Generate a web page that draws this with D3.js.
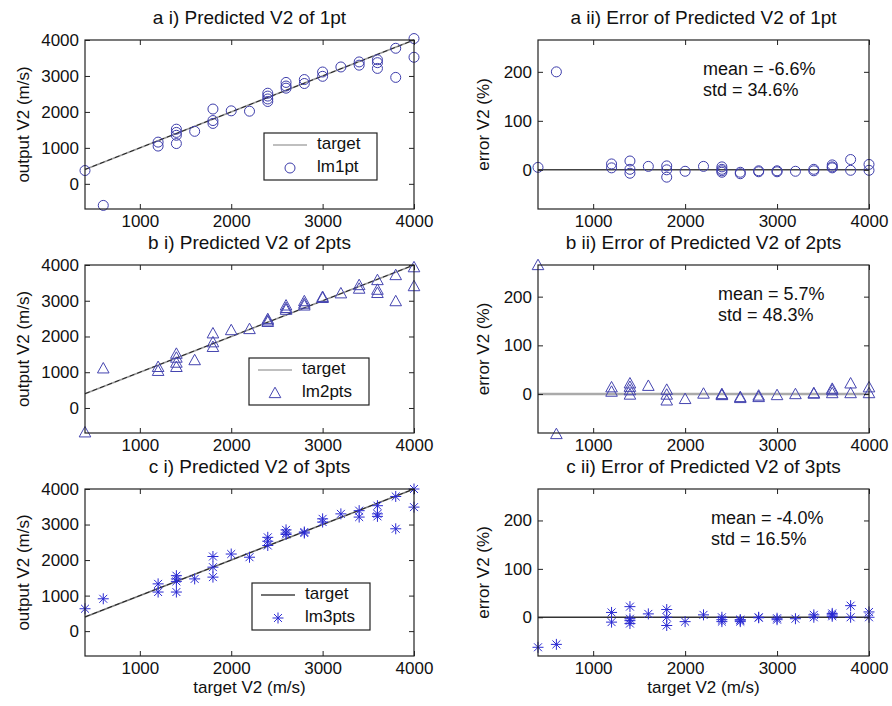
<!DOCTYPE html>
<html>
<head>
<meta charset="utf-8">
<script src="https://cdn.jsdelivr.net/npm/d3@7"></script>
<style>
body { margin: 0; background: #fff; }
text { font-family: Arial, "Liberation Sans", sans-serif; fill: #111; }
</style>
</head>
<body>
<div id="chart"></div>
<script>
// axis settings
const X_DOMAIN = [400, 4000];
const X_TICKS = [1000, 2000, 3000, 4000];
const OUT_DOMAIN = [-700, 4000];
const OUT_TICKS = [0, 1000, 2000, 3000, 4000];
const ERR_DOMAIN = [-80, 265];
const ERR_TICKS = [0, 100, 200];

const TITLES = [
    ["a i) Predicted V2 of 1pt", "a ii) Error of Predicted V2 of 1pt"],
    ["b i) Predicted V2 of 2pts", "b ii) Error of Predicted V2 of 2pts"],
    ["c i) Predicted V2 of 3pts", "c ii) Error of Predicted V2 of 3pts"],
];
const SERIES_NAMES = ["lm1pt", "lm2pts", "lm3pts"];
const STATS = [
    ["mean = -6.6%", "std = 34.6%"],
    ["mean = 5.7%", "std = 48.3%"],
    ["mean = -4.0%", "std = 16.5%"],
];

// [target V2, output V2]
const OUT_1PT = [
    [400, 370], [600, -600], [1200, 1160], [1200, 1050],
    [1400, 1520], [1400, 1430], [1400, 1350], [1400, 1120], [1600, 1460],
    [1800, 2080], [1800, 1760], [1800, 1680], [2000, 2030], [2200, 2020],
    [2400, 2520], [2400, 2440], [2400, 2360], [2400, 2290],
    [2600, 2820], [2600, 2720], [2600, 2660], [2800, 2900], [2800, 2790],
    [3000, 3110], [3000, 2990], [3200, 3250], [3400, 3390], [3400, 3300],
    [3600, 3450], [3600, 3370], [3600, 3210], [3800, 3770], [3800, 2960],
    [4000, 4040], [4000, 3520],
];
const OUT_2PTS = [
    [400, -680], [600, 1110], [1200, 1150], [1200, 1040],
    [1400, 1520], [1400, 1410], [1400, 1270], [1400, 1150], [1600, 1340],
    [1800, 2090], [1800, 1840], [1800, 1710], [2000, 2180], [2200, 2210],
    [2400, 2490], [2400, 2450], [2400, 2410],
    [2600, 2870], [2600, 2800], [2600, 2750], [2800, 2990], [2800, 2920], [2800, 2870],
    [3000, 3110], [3000, 3080], [3200, 3210], [3400, 3440], [3400, 3340],
    [3600, 3580], [3600, 3310], [3600, 3220], [3800, 3720], [3800, 2990],
    [4000, 3940], [4000, 3410],
];
const OUT_3PTS = [
    [400, 630], [600, 910], [1200, 1330], [1200, 1100],
    [1400, 1560], [1400, 1470], [1400, 1400], [1400, 1100], [1600, 1470],
    [1800, 2100], [1800, 1800], [1800, 1520], [2000, 2170], [2200, 2080],
    [2400, 2640], [2400, 2530], [2400, 2410],
    [2600, 2850], [2600, 2760], [2600, 2720], [2800, 2790], [2800, 2760],
    [3000, 3160], [3000, 3070], [3200, 3300], [3400, 3390], [3400, 3210],
    [3600, 3530], [3600, 3300], [3600, 3230], [3800, 3790], [3800, 2880],
    [4000, 4000], [4000, 3490],
];

// [target V2, error %]
const ERR_1PT = [
    [400, 5], [600, 200], [1200, 12], [1200, 4],
    [1400, 18], [1400, 1], [1400, -7], [1600, 7],
    [1800, 8], [1800, 0], [1800, -15], [2000, -3], [2200, 7],
    [2400, 6], [2400, 1], [2400, -2], [2400, -5],
    [2600, -5], [2600, -8], [2800, -2], [2800, -4],
    [3000, -2], [3000, -4], [3200, -3], [3400, 1], [3400, -2],
    [3600, 10], [3600, 6], [3600, 4], [3800, 21], [3800, -1],
    [4000, 11], [4000, -1],
];
const ERR_2PTS = [
    [400, 265], [600, -82], [1200, 14], [1200, 5],
    [1400, 22], [1400, 15], [1400, 8], [1400, -1], [1600, 17],
    [1800, 9], [1800, -1], [1800, -13], [2000, -10], [2200, 1],
    [2400, 0], [2400, -1], [2400, -2],
    [2600, -8], [2600, -6], [2800, -3], [2800, -6],
    [3000, -2], [3200, 0], [3400, 2], [3400, 1],
    [3600, 11], [3600, 8], [3600, 2], [3800, 22], [3800, 2],
    [4000, 14], [4000, 2],
];
const ERR_3PTS = [
    [400, -62], [600, -56], [1200, 10], [1200, -10],
    [1400, 22], [1400, -3], [1400, -7], [1400, -13], [1600, 7],
    [1800, 16], [1800, 0], [1800, -17], [2000, -9], [2200, 5],
    [2400, 0], [2400, -5], [2400, -9],
    [2600, -9], [2600, -6], [2600, -5], [2800, -1], [2800, 0],
    [3000, -5], [3000, -2], [3200, -3], [3400, 5], [3400, 0],
    [3600, 8], [3600, 5], [3600, 2], [3800, 24], [3800, 0],
    [4000, 11], [4000, 0],
];

/* ---------------------------------- */
const W = 892, H = 706;
const COLS = [[85, 414], [538, 869]];
const ROWS = [[40, 209], [265, 433], [489, 656]];
const FONT = 17;
const TITLE_FONT = 19;
const STATS_FONT = 18;

const MARKERS = {
    circle: (r) => `M${r},0A${r},${r} 0 1 1 ${-r},0A${r},${r} 0 1 1 ${r},0`,
    triangle: (r) => `M0,${-r}L${r},${r*0.8}L${-r},${r*0.8}Z`,
    star: (r) => {
        const a = r*0.72;
        return `M${-r},0L${r},0M0,${-r}L0,${r}M${-a},${-a}L${a},${a}M${-a},${a}L${a},${-a}`;
    },
};
const ROW_STYLE = [
    {marker: "circle", size: 5, color: "#3d3dab", refLine: "#999", zeroLine: "#444", zeroW: 1.5, legendLine: "#aaa", legend: [264, 133, 113], stats: 165},
    {marker: "triangle", size: 5.8, color: "#4545b0", refLine: "#999", zeroLine: "#aaa", zeroW: 2.5, legendLine: "#aaa", legend: [249, 358, 120], stats: 180},
    {marker: "star", size: 5.5, color: "#2a2ad2", refLine: "#777", zeroLine: "#333", zeroW: 1.5, legendLine: "#444", legend: [252, 583, 118], stats: 173},
];

var svg = d3.select("#chart").append("svg")
    .attr("width", W)
    .attr("height", H);

var styleAxis = function(g){
    g.attr("font-size", FONT).attr("font-family", null);
    g.select(".domain").remove();
    g.selectAll(".tick line").attr("stroke", "#222");
    g.selectAll(".tick text").attr("fill", "#111");
};

var _panel = function(row, col, data, domain, ticks, ylabel){
    var st = ROW_STYLE[row];
    var x = d3.scaleLinear().domain(X_DOMAIN).range(COLS[col]);
    var y = d3.scaleLinear().domain(domain).range([ROWS[row][1], ROWS[row][0]]);
    var g = svg.append("g");
    var x0 = COLS[col][0], x1 = COLS[col][1], y0 = ROWS[row][0], y1 = ROWS[row][1];
    var fmt = d3.format("d");

    g.append("rect")
     .attr("x", x0).attr("y", y0)
     .attr("width", x1-x0).attr("height", y1-y0)
     .attr("fill", "#fff");

    // reference line
    if (col == 0) {
        var pts = [[X_DOMAIN[0], X_DOMAIN[0]], [X_DOMAIN[1], X_DOMAIN[1]]];
        var line = d3.line().x((d) => x(d[0])).y((d) => y(d[1]));
        g.append("path").attr("d", line(pts)).attr("stroke", st.refLine).attr("stroke-width", 1.6).attr("fill", "none");
        g.append("path").attr("d", line(pts)).attr("stroke", "#222").attr("stroke-width", 1)
         .attr("stroke-dasharray", "5,3").attr("fill", "none");
    } else {
        g.append("line")
         .attr("x1", x(X_DOMAIN[0])).attr("x2", x(X_DOMAIN[1]))
         .attr("y1", y(0)).attr("y2", y(0))
         .attr("stroke", st.zeroLine).attr("stroke-width", st.zeroW);
    }

    g.append("g").selectAll("path.mk")
     .data(data)
     .enter()
     .append("path")
     .classed("mk", true)
     .attr("transform", (d) => "translate("+x(d[0])+","+y(d[1])+")")
     .attr("d", MARKERS[st.marker](st.size))
     .attr("fill", "none")
     .attr("stroke", st.color)
     .attr("stroke-width", 1);

    // box and ticks on all four sides
    g.append("rect")
     .attr("x", x0).attr("y", y0)
     .attr("width", x1-x0).attr("height", y1-y0)
     .attr("fill", "none").attr("stroke", "#222").attr("stroke-width", 1.2);
    g.append("g").attr("transform", "translate(0,"+y1+")")
     .call(d3.axisBottom(x).tickValues(X_TICKS).tickFormat(fmt).tickSizeInner(-5).tickSizeOuter(0).tickPadding(6))
     .call(styleAxis);
    g.append("g").attr("transform", "translate(0,"+y0+")")
     .call(d3.axisTop(x).tickValues(X_TICKS).tickSizeInner(-5).tickSizeOuter(0).tickFormat(""))
     .call(styleAxis);
    g.append("g").attr("transform", "translate("+x0+",0)")
     .call(d3.axisLeft(y).tickValues(ticks).tickFormat(fmt).tickSizeInner(-5).tickSizeOuter(0).tickPadding(6))
     .call(styleAxis);
    g.append("g").attr("transform", "translate("+x1+",0)")
     .call(d3.axisRight(y).tickValues(ticks).tickSizeInner(-5).tickSizeOuter(0).tickFormat(""))
     .call(styleAxis);

    g.append("text")
     .attr("x", (x0+x1)/2).attr("y", y0-16)
     .attr("text-anchor", "middle")
     .attr("font-size", TITLE_FONT)
     .text(TITLES[row][col]);
    g.append("text")
     .attr("transform", "translate("+(x0-(col == 0 ? 56 : 49))+","+((y0+y1)/2)+") rotate(-90)")
     .attr("text-anchor", "middle")
     .attr("font-size", FONT)
     .text(ylabel);
    if (row == 2) {
        g.append("text")
         .attr("x", (x0+x1)/2).attr("y", y1+37)
         .attr("text-anchor", "middle")
         .attr("font-size", FONT)
         .text("target V2 (m/s)");
    }

    if (col == 0) {
        var lx = st.legend[0], ly = st.legend[1], lw = st.legend[2];
        var lg = g.append("g");
        lg.append("rect")
          .attr("x", lx).attr("y", ly).attr("width", lw).attr("height", 47)
          .attr("fill", "#fff").attr("stroke", "#222").attr("stroke-width", 1.2);
        lg.append("line")
          .attr("x1", lx+9).attr("x2", lx+43).attr("y1", ly+12).attr("y2", ly+12)
          .attr("stroke", st.legendLine).attr("stroke-width", 1.6);
        lg.append("path")
          .attr("transform", "translate("+(lx+26)+","+(ly+35)+")")
          .attr("d", MARKERS[st.marker](st.size))
          .attr("fill", "none").attr("stroke", st.color);
        lg.selectAll("text")
          .data(["target", SERIES_NAMES[row]])
          .enter()
          .append("text")
          .attr("x", lx+53)
          .attr("y", (d,i) => ly+16+i*23)
          .attr("font-size", FONT)
          .text((d) => d);
    } else {
        g.selectAll("text.stats")
         .data(STATS[row])
         .enter()
         .append("text")
         .classed("stats", true)
         .attr("x", x0+st.stats)
         .attr("y", (d,i) => y0+35+i*21)
         .attr("font-size", STATS_FONT)
         .text((d) => d);
    }
};

[OUT_1PT, OUT_2PTS, OUT_3PTS].forEach((d,i) => _panel(i, 0, d, OUT_DOMAIN, OUT_TICKS, "output V2 (m/s)"));
[ERR_1PT, ERR_2PTS, ERR_3PTS].forEach((d,i) => _panel(i, 1, d, ERR_DOMAIN, ERR_TICKS, "error V2 (%)"));
</script>
</body>
</html>
